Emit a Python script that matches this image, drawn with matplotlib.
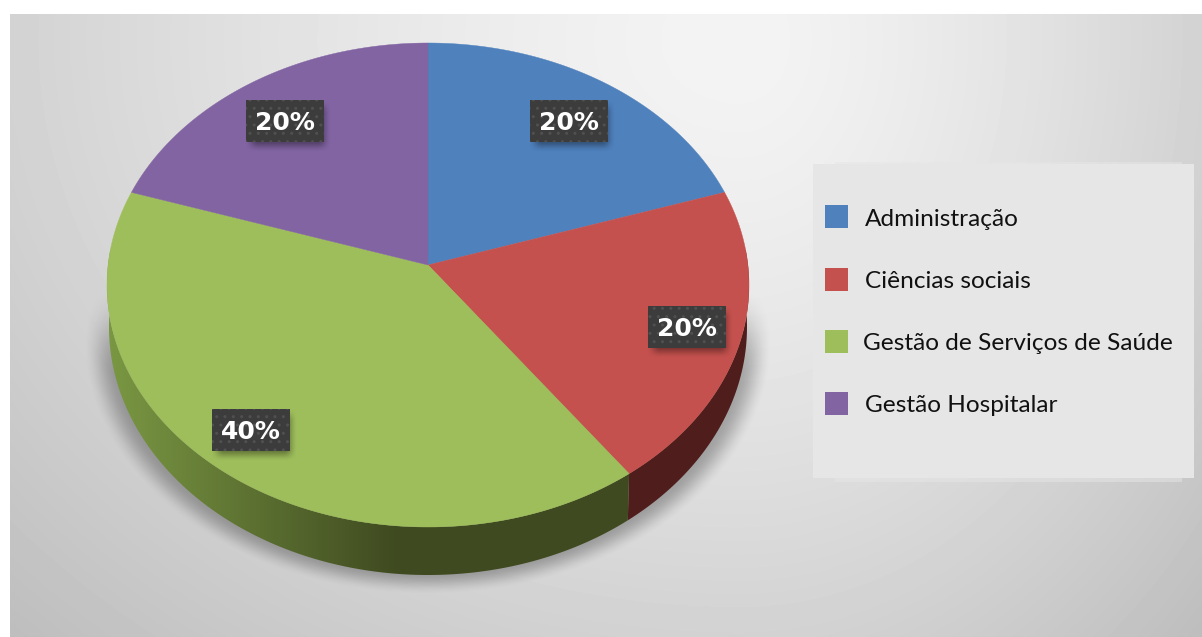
import numpy as np
import matplotlib
matplotlib.use('Agg')
import matplotlib.pyplot as plt
from matplotlib.patches import Rectangle, Polygon

# data
categories = ['Administração', 'Ciências sociais', 'Gestão de Serviços de Saúde', 'Gestão Hospitalar']
shares = [20, 20, 40, 20]
top_colors = ['#4f81bd', '#c4514e', '#9ebe5b', '#8264a3']

W, H = 1202, 637
CX, CY = 428, 285      # centre of the top ellipse
RX, RY = 321, 242
APEX = 20              # apex sits above the ellipse centre (perspective)
BOT_CY, BOT_RX, BOT_RY = 327, 319, 248  # lower rim of the side wall
label_x = [569, 686.5, 251, 285]
label_y = [121, 327, 430, 121]
legend_y = [217, 280, 342, 404]
text_y = [219, 281, 343, 405]
text_x = [865, 865, 863, 865]


def rim(theta):
    # theta in radians clockwise from 12 o'clock, ray cast from the apex
    a = APEX / RY
    dx, dy = np.sin(theta), np.cos(theta)
    b = a * dy
    t = -b + np.sqrt(b**2 + 1 - a**2)
    return CX + RX * dx * t, CY - RY * (a + dy * t)


def rim_lower(theta):
    x, y = rim(theta)
    return CX + BOT_RX * (x - CX) / RX, BOT_CY + BOT_RY * (y - CY) / RY


def smooth(v):
    v = np.clip(v, 0, 1)
    return v * v * (3 - 2 * v)


fig = plt.figure(figsize=(W / 100, H / 100), dpi=100)
ax = fig.add_axes([0, 0, 1, 1])
ax.axis('off')

# background panel
xx, yy = np.meshgrid(np.arange(10, W) + .5, np.arange(14, H) + .5)
dx = xx - 740
dx = np.where(dx < 0, dx / 730, dx / 460)
dy = (yy - 40) / 590
bg = np.clip(.955 - .13 * (dx**2 + dy**2)**.7, 0, 1)
ax.imshow(bg, cmap='gray', vmin=0, vmax=1, extent=(10, W, H, 14), aspect='auto', zorder=0, interpolation='bilinear')

# soft shadow under the pie
t = np.sqrt(((xx - CX) / 345)**2 + ((yy - 340) / 255)**2)
edge = smooth((1 - t) / .09)
fade = smooth((yy - 285) / 90)
shadow = np.zeros(xx.shape + (4,))
shadow[..., 3] = .28 * edge * fade
ax.imshow(shadow, extent=(10, W, H, 14), aspect='auto', zorder=1, interpolation='bilinear')

# slices
bounds = np.cumsum([0] + shares) / sum(shares) * 2 * np.pi

# side wall
wall_colors = [None, ('#4f1e1c', '#4f1e1c'), ('#7a9843', '#3f4a20'), None]
for i, cols in enumerate(wall_colors):
    if cols is None:
        continue
    th = np.linspace(bounds[i], bounds[i + 1], 300)
    xt, yt = rim(th)
    xb, yb = rim_lower(th)
    verts = np.r_[np.c_[xt, yt], np.c_[xb, yb][::-1]]
    poly = Polygon(verts, closed=True, fc='none', ec='none')
    ax.add_patch(poly)
    c0 = np.array(matplotlib.colors.to_rgb(cols[0]))
    c1 = np.array(matplotlib.colors.to_rgb(cols[1]))
    f = np.clip((np.arange(107, 750) - 107) / 290, 0, 1)[None, :, None]
    im = ax.imshow(c0 * (1 - f) + c1 * f, extent=(107, 750, 600, 250), aspect='auto', zorder=2)
    im.set_clip_path(poly)

# top face
for i, c in enumerate(top_colors):
    th = np.linspace(bounds[i], bounds[i + 1], 200)
    xr, yr = rim(th)
    verts = np.r_[[[CX, CY - APEX]], np.c_[xr, yr]]
    ax.add_patch(Polygon(verts, closed=True, fc=c, ec=c, lw=.3, zorder=3))

# value labels
for s, lx, ly in zip(shares, label_x, label_y):
    sx, sy = np.meshgrid(np.arange(-60, 61), np.arange(-40, 41))
    sh = smooth((44 - np.abs(sx - 3)) / 14) * smooth((27 - np.abs(sy - 5)) / 14)
    rgba = np.zeros(sh.shape + (4,))
    rgba[..., 3] = .42 * sh
    ax.imshow(rgba, extent=(lx - 60, lx + 60, ly + 40, ly - 40), aspect='auto', zorder=4)
    ax.add_patch(Rectangle((lx - 39, ly - 21), 78, 42, fc='#3c3c3c', ec='#505050', hatch='..', lw=0, zorder=5))
    ax.text(lx, ly + 2, f'{s}%', color='white', fontsize=18, fontweight='bold', ha='center', va='center', zorder=6)

# legend
ax.add_patch(Rectangle((835, 162), 347, 320, fc='#e6e6e6', ec='none', alpha=.5, zorder=2))
ax.add_patch(Rectangle((813, 164), 381, 314, fc='#e6e6e6', ec='none', zorder=2))
for name, c, ys, yt, xt in zip(categories, top_colors, legend_y, text_y, text_x):
    ax.add_patch(Rectangle((825, ys - 12), 23, 23, fc=c, ec='none', zorder=3))
    ax.text(xt, yt, name, fontsize=17.6, family='Lato', color='#111111', ha='left', va='center', zorder=3)

ax.set_xlim(0, W)
ax.set_ylim(H, 0)
plt.savefig('out.png', dpi=100)
